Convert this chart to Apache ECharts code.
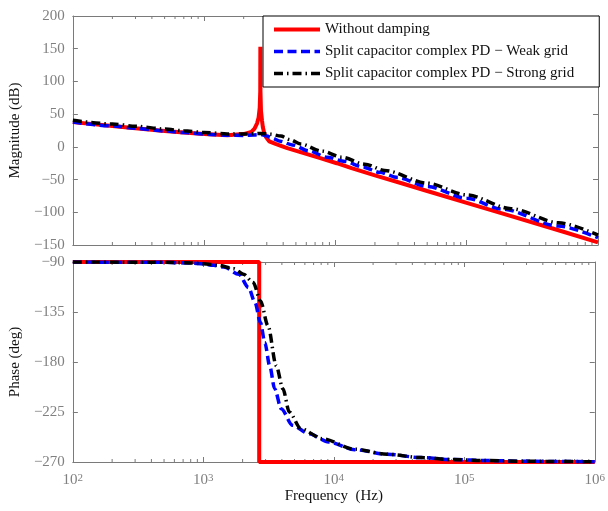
<!DOCTYPE html>
<html>
<head>
<meta charset="utf-8">
<script src="https://cdn.jsdelivr.net/npm/echarts@6/dist/echarts.min.js"></script>
<style>
  html, body { margin: 0; padding: 0; background: #fff; }
  #chart { width: 608px; height: 511px; }
</style>
</head>
<body>
<div id="chart"></div>
<script>
// Bode plot of the LCL loop: undamped vs. split-capacitor complex PD damping

// ---- magnitude (dB) ----
const magFreqNoDamp = [100, 200, 300, 500, 700, 1000, 1500, 2000, 2290, 2420, 2530, 2600, 2650, 2675, 2680, 2685, 2710, 2760, 2800, 2870, 2960, 3130, 3500, 3800, 4300, 5740, 7670, 10240, 13270, 20000, 32400, 50000, 100000, 200000, 500000, 1000000];
const magNoDamp     = [37.8, 32, 28.5, 24.3, 21.8, 19.5, 17.6, 19.5, 23, 28, 36, 45, 60, 85, 153, 85, 55, 40, 30, 21, 15, 8.5, 4.5, 2, -2, -9.6, -17.3, -25, -32.6, -43.5, -56, -67.5, -85.5, -103.5, -127.5, -146];

const magFreqWeak = [100, 200, 300, 500, 700, 1000, 1500, 2000, 2400, 2700, 3000, 3300, 3800, 4690, 6270, 8610, 11830, 16250, 21700, 29800, 50000, 100000, 185000, 500000, 1000000];
const magWeak     = [37.8, 32, 28.5, 24.3, 21.8, 19.5, 17.6, 17.5, 18.3, 19, 16.5, 13.3, 8.5, 3, -6.1, -15.7, -22.4, -31, -39, -47, -60.5, -78.5, -95, -121, -139];

const magFreqStrong = [100, 200, 300, 500, 700, 1000, 1500, 2000, 2700, 3200, 3840, 4500, 5430, 7890, 11150, 16700, 23700, 50000, 100000, 218000, 500000, 1000000];
const magStrong     = [40.5, 35, 31.5, 27.3, 24.5, 22, 19.8, 19.5, 20.5, 19.3, 16.5, 11, 4.3, -6.5, -15.7, -26.5, -36, -55.5, -73.5, -94.5, -116, -135];

// ---- phase (deg) ----
const phFreqNoDamp = [100, 2680, 2680, 1000000];
const phNoDamp     = [-90, -90, -270, -270];

const phFreqWeak = [100, 500, 800, 1000, 1200, 1440, 1870, 2220, 2490, 2740, 2960, 3225, 3520, 3950, 4830, 6450, 9130, 14450, 25750, 45900, 81700, 145600, 300000, 1000000];
const phWeak     = [-90, -90.3, -91, -91.8, -93, -94.5, -101, -113, -126.5, -144.5, -162.5, -183.3, -204, -222, -237, -244.5, -252, -259, -263, -266, -267.8, -268.7, -269.4, -269.8];

const phFreqStrong = [100, 500, 800, 1000, 1300, 1710, 2030, 2415, 2740, 3130, 3620, 4070, 4560, 5580, 8130, 14450, 25750, 45900, 81700, 145600, 300000, 1000000];
const phStrong     = [-90, -90.2, -90.8, -91.5, -93, -96, -101, -108.5, -125, -147.4, -183.3, -204, -225, -240, -249, -258.5, -263, -266, -267.8, -268.7, -269.4, -269.8];

// ---- axes ----
const freqRange = [100, 1000000];
const magRange = [-150, 200];
const magStep = 50;
const phRange = [-270, -90];
const phStep = 45;
const minorDigits = [2, 3, 4, 5, 6, 7, 8, 9];
const decades = [100, 1000, 10000, 100000];

const seriesNames = [
  'Without damping',
  'Split capacitor complex PD \u2212 Weak grid',
  'Split capacitor complex PD \u2212 Strong grid'
];

const pair = (xs, ys) => xs.map((x, i) => [x, ys[i]]);
const minorTicks = [];
decades.forEach(d => minorDigits.forEach(m => minorTicks.push(d * m)));

const FONT = "'Liberation Serif', 'Times New Roman', serif";
const AXIS_GREY = '#7a7a7a';
const LABEL_GREY = '#808080';

const minus = v => String(v).replace('-', '\u2212');

function xAxisDef(gridIndex, position, withLabels) {
  return {
    type: 'log', logBase: 10, gridIndex, position,
    min: freqRange[0], max: freqRange[1],
    axisLine: { show: true, onZero: false, lineStyle: { color: AXIS_GREY, width: 1 } },
    axisTick: { show: true, inside: true, length: 5, lineStyle: { color: AXIS_GREY } },
    splitLine: { show: false },
    axisLabel: withLabels ? {
      show: true, margin: 11,
      formatter: v => '{a|10}{b|' + Math.round(Math.log10(v)) + '}',
      rich: {
        a: { fontFamily: FONT, fontSize: 15, color: LABEL_GREY },
        b: { fontFamily: FONT, fontSize: 11, color: LABEL_GREY, verticalAlign: 'top' }
      }
    } : { show: false }
  };
}

function yAxisDef(gridIndex, position, range, step, withLabels, name) {
  return {
    type: 'value', gridIndex, position,
    min: range[0], max: range[1], interval: step,
    axisLine: { show: true, onZero: false, lineStyle: { color: AXIS_GREY, width: 1 } },
    axisTick: { show: true, inside: true, length: 5, lineStyle: { color: AXIS_GREY } },
    splitLine: { show: false },
    axisLabel: withLabels ? {
      show: true, margin: 8, fontFamily: FONT, fontSize: 15, color: LABEL_GREY,
      formatter: minus
    } : { show: false },
    name: name || '',
    nameLocation: 'middle', nameGap: 43, nameRotate: 90,
    nameTextStyle: { fontFamily: FONT, fontSize: 15, color: '#111' }
  };
}

// short log-spaced ticks along the top and bottom edges of a panel
function minorTickSeries(xAxisIndex, yAxisIndex, range) {
  return {
    type: 'custom', xAxisIndex, yAxisIndex, silent: true, clip: false,
    data: minorTicks.map(f => [f]),
    renderItem: (params, api) => {
      const f = api.value(0);
      const b = api.coord([f, range[0]]);
      const t = api.coord([f, range[1]]);
      const st = { stroke: AXIS_GREY, lineWidth: 1 };
      return {
        type: 'group',
        children: [
          { type: 'line', shape: { x1: b[0], y1: b[1], x2: b[0], y2: b[1] - 3 }, style: st },
          { type: 'line', shape: { x1: t[0], y1: t[1], x2: t[0], y2: t[1] + 3 }, style: st }
        ]
      };
    }
  };
}

const RED = { color: '#ff0000', width: 4, type: 'solid' };
const BLUE = { color: '#0000ff', width: 3.5, type: [9, 4.5] };
const BLACK = { color: '#000000', width: 3.5, type: [9, 4, 1.5, 4] };
const lineStyles = [RED, BLUE, BLACK];

function lineSeries(name, data, xi, yi, style, smooth) {
  return {
    name, type: 'line', xAxisIndex: xi, yAxisIndex: yi,
    data, showSymbol: false, symbol: 'none',
    smooth: smooth ? 0.3 : false, smoothMonotone: 'x',
    lineStyle: style, itemStyle: { color: style.color },
    animation: false
  };
}

const option = {
  animation: false,
  backgroundColor: '#fff',
  grid: [
    { left: 66, top: 16, width: 532, height: 229 },
    { left: 66, top: 262, width: 532, height: 200 }
  ],
  xAxis: [
    xAxisDef(0, 'bottom', false),
    xAxisDef(0, 'top', false),
    Object.assign(xAxisDef(1, 'bottom', true), {
      name: 'Frequency  (Hz)', nameLocation: 'middle', nameGap: 26,
      nameTextStyle: { fontFamily: FONT, fontSize: 15, color: '#111' }
    }),
    xAxisDef(1, 'top', false)
  ],
  yAxis: [
    yAxisDef(0, 'left', magRange, magStep, true, 'Magnitude (dB)'),
    yAxisDef(0, 'right', magRange, magStep, false),
    yAxisDef(1, 'left', phRange, phStep, true, 'Phase (deg)'),
    yAxisDef(1, 'right', phRange, phStep, false)
  ],
  legend: {
    data: seriesNames.map((name, i) => ({
      name,
      lineStyle: { width: lineStyles[i].width, type: lineStyles[i].type, color: lineStyles[i].color }
    })),
    orient: 'vertical',
    left: 263, top: 16,
    padding: [6, 25, 6, 9],
    itemWidth: 46, itemHeight: 14, itemGap: 7,
    itemStyle: { opacity: 0 },
    backgroundColor: '#fff',
    borderColor: '#000', borderWidth: 1, borderRadius: 0,
    textStyle: { fontFamily: FONT, fontSize: 15, color: '#111' },
    selectedMode: false
  },
  series: [
    minorTickSeries(0, 0, magRange),
    minorTickSeries(2, 2, phRange),
    lineSeries(seriesNames[0], pair(magFreqNoDamp, magNoDamp), 0, 0, RED, false),
    lineSeries(seriesNames[1], pair(magFreqWeak, magWeak), 0, 0, BLUE, true),
    lineSeries(seriesNames[2], pair(magFreqStrong, magStrong), 0, 0, BLACK, true),
    lineSeries(seriesNames[0], pair(phFreqNoDamp, phNoDamp), 2, 2, RED, false),
    lineSeries(seriesNames[1], pair(phFreqWeak, phWeak), 2, 2, BLUE, true),
    lineSeries(seriesNames[2], pair(phFreqStrong, phStrong), 2, 2, BLACK, true)
  ]
};

const chart = echarts.init(document.getElementById('chart'), null, { renderer: 'canvas' });
chart.setOption(option);
</script>
</body>
</html>
